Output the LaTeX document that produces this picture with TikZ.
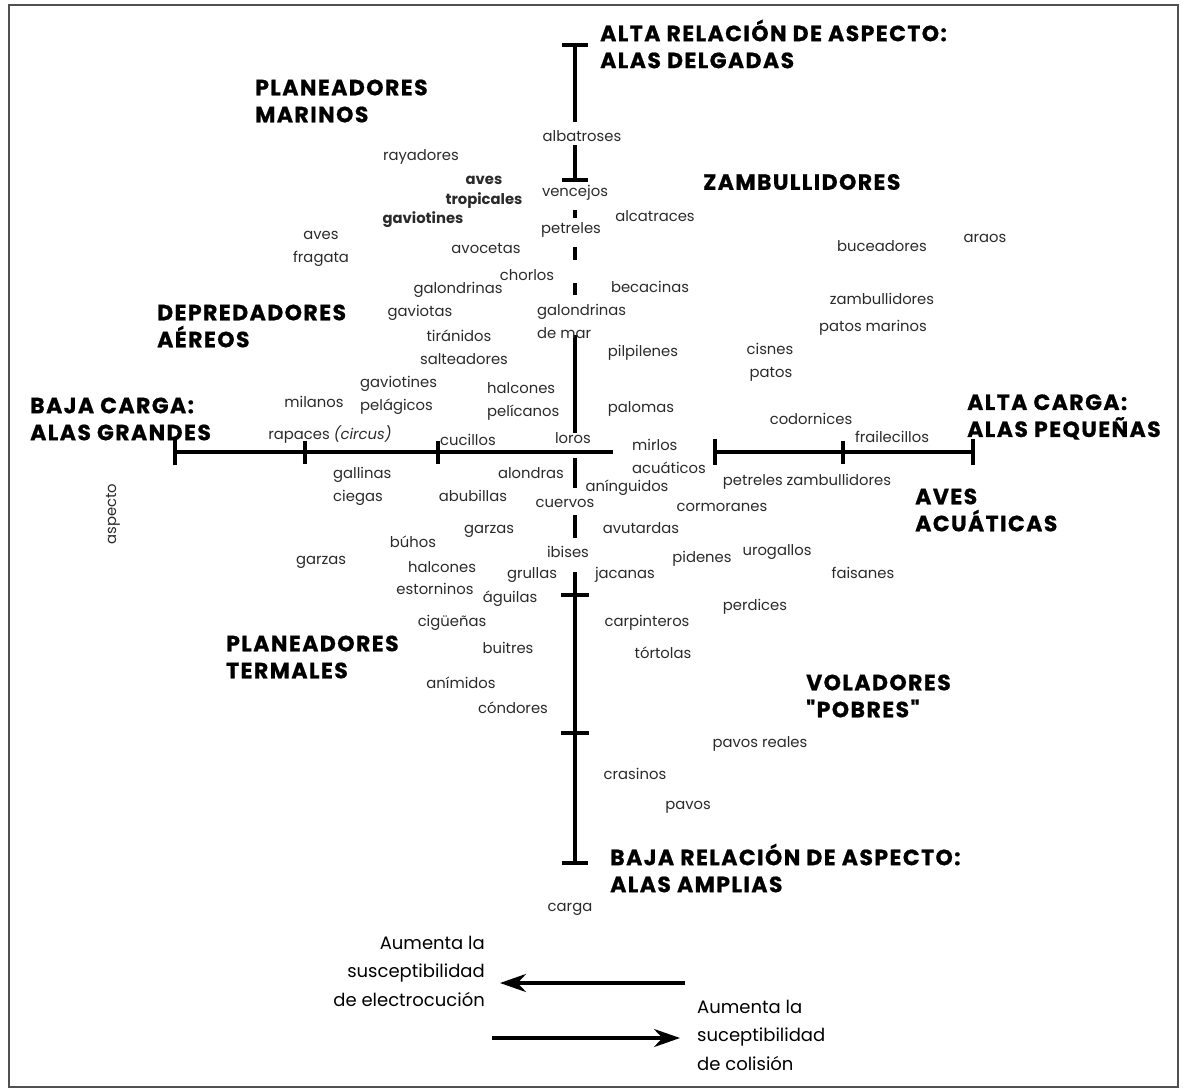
\documentclass[tikz,border=0pt]{standalone}
\usepackage{fontspec}
\setmainfont{Poppins}
\newfontfamily\headfont{Poppins}[LetterSpace=6.5, Ligatures=TeXOff, BoldFeatures={FakeBold=0.8}]
\usepackage{tikz}
\usetikzlibrary{arrows.meta}
\definecolor{framegray}{HTML}{505050}
\definecolor{birdtext}{HTML}{2A2A2A}

\tikzset{
  heading/.style={anchor=west, align=left, inner sep=0pt, font=\headfont\bfseries\fontsize{22}{27}\selectfont},
  bird/.style={inner sep=0pt, text=birdtext, font=\fontsize{14.8}{23}\selectfont},
  legend/.style={inner sep=0pt, font=\fontsize{18}{28.5}\selectfont},
  axis/.style={line width=3.6pt},
  tick/.style={line width=3.6pt}
}

\begin{document}
\begin{tikzpicture}[x=1pt,y=-1pt]
  \useasboundingbox (0,0) rectangle (1183,1090);
  \draw[framegray, line width=1.8pt] (9,5) rectangle (1178,1087);

  \begin{scope}[every node/.style={heading}]
    \node (altarel) at (600,44) {ALTA RELACIÓN DE ASPECTO:\\ALAS DELGADAS};
    \node (marinos) at (255,101) {PLANEADORES\\MARINOS};
    \node (zambu) at (703,182) {ZAMBULLIDORES};
    \node (depred) at (157,326) {DEPREDADORES\\AÉREOS};
    \node (bajacar) at (30,419) {BAJA CARGA:\\ALAS GRANDES};
    \node (altacar) at (967,417) {ALTA CARGA:\\ALAS PEQUEÑAS};
    \node (acuat) at (915,510) {AVES\\ACUÁTICAS};
    \node (termal) at (226,657) {PLANEADORES\\TERMALES};
    \node (pobres) at (806,696) {VOLADORES\\"POBRES"};
    \node (bajarel) at (610,868) {BAJA RELACIÓN DE ASPECTO:\\ALAS AMPLIAS};
  \end{scope}

  \coordinate (vtop) at (575,43);
  \coordinate (vbot) at (575,865);
  \coordinate (hleft) at (173,452);
  \coordinate (hcut) at (613,452);
  \coordinate (hrleft) at (713,452);
  \coordinate (hright) at (975,452);

  \begin{scope}[axis]
    \draw[{Bar[width=26pt]}-] (vtop) -- (575,122);
    \draw[-{Bar[width=26pt]}] (575,145) -- (575,182);
    \foreach \a/\b in {210/218,247/260,283/295,335/433,458/488,515/538}
      \draw (575,\a) -- (575,\b);
    \draw[-{Bar[width=26pt]}] (575,572) -- (vbot);
    \draw[{Bar[width=26pt]}-] (hleft) -- (hcut);
    \draw[{Bar[width=26pt]}-{Bar[width=26pt]}] (hrleft) -- (hright);
    \foreach \t in {305,438,843}
      \draw (\t,441) -- (\t,464);
    \foreach \t in {595,733}
      \draw (561,\t) -- (589,\t);
  \end{scope}

  \begin{scope}[every node/.style={bird}]
    \node (albat) at (582,136) {albatroses};
    \node (rayad) at (421,157) {rayadores};
    \node[align=center, font=\bfseries\fontsize{14.8}{20}\selectfont] (tropic) at (484,192) {aves\\tropicales};
    \node[font=\bfseries\fontsize{14.8}{23}\selectfont] (gavio) at (423,220) {gaviotines};
    \node (vence) at (575,193) {vencejos};
    \node (alcat) at (655,216) {alcatraces};
    \node (petre) at (571,230) {petreles};
    \node[align=center] (fraga) at (321,249) {aves\\fragata};
    \node (avoce) at (486,248) {avocetas};
    \node (chorl) at (527,275) {chorlos};
    \node (golon) at (458,290) {galondrinas};
    \node (becac) at (650,287) {becacinas};
    \node (gavta) at (420,313) {gaviotas};
    \node[anchor=west, align=left] (golmar) at (537,321) {galondrinas\\de mar};
    \node (tiran) at (459,336) {tiránidos};
    \node (pilpi) at (643,353) {pilpilenes};
    \node (salte) at (464,359) {salteadores};
    \node[anchor=west, align=left] (pelag) at (360,395) {gaviotines\\pelágicos};
    \node (milan) at (314,402) {milanos};
    \node[anchor=west, align=left] (pelic) at (487,401) {halcones\\pelícanos};
    \node (palom) at (641,409) {palomas};
    \node (rapac) at (330,435) {rapaces \textit{(circus)}};
    \node (cucil) at (468,440) {cucillos};
    \node (loros) at (573,438) {loros};
    \node[anchor=west, align=left] (mirlo) at (632,456) {mirlos\\acuáticos};
    \node (cisne) at (770,349) {cisnes};
    \node (patos) at (771,374) {patos};
    \node (zambm) at (882,299) {zambullidores};
    \node (patmar) at (873,328) {patos marinos};
    \node (bucea) at (882,246) {buceadores};
    \node (araos) at (985,238) {araos};
    \node (codor) at (811,419) {codornices};
    \node (frail) at (892,437) {frailecillos};
    \node[anchor=west, align=left] (gallin) at (333,486) {gallinas\\ciegas};
    \node (alond) at (531,473) {alondras};
    \node (aning) at (627,488) {anínguidos};
    \node (abubi) at (473,496) {abubillas};
    \node (cuerv) at (565,503) {cuervos};
    \node (cormo) at (722,507) {cormoranes};
    \node (petzam) at (807,482) {petreles zambullidores};
    \node (garza) at (489,531) {garzas};
    \node (avuta) at (641,528) {avutardas};
    \node (buhos) at (413,542) {búhos};
    \node (ibise) at (568,552) {ibises};
    \node (piden) at (702,559) {pidenes};
    \node (uroga) at (777,552) {urogallos};
    \node (halco) at (442,567) {halcones};
    \node (grull) at (532,575) {grullas};
    \node (jacan) at (625,575) {jacanas};
    \node (faisa) at (863,573) {faisanes};
    \node (estor) at (435,589) {estorninos};
    \node (aguil) at (510,599) {águilas};
    \node (perdi) at (755,607) {perdices};
    \node (cigue) at (452,623) {cigüeñas};
    \node (carpi) at (647,623) {carpinteros};
    \node (buitr) at (508,648) {buitres};
    \node (torto) at (663,653) {tórtolas};
    \node (animi) at (461,683) {anímidos};
    \node (condo) at (513,708) {cóndores};
    \node (garzb) at (321,562) {garzas};
    \node (pavre) at (760,744) {pavos reales};
    \node (crasi) at (635,774) {crasinos};
    \node (pavos) at (688,807) {pavos};
    \node (carga) at (570,909) {carga};
    \node[rotate=90] (aspec) at (113,514) {aspecto};
  \end{scope}

  \node[legend, anchor=east, align=right] (electro) at (485,971) {Aumenta la\\susceptibilidad\\de electrocución};
  \node[legend, anchor=west, align=left] (colis) at (697,1035) {Aumenta la\\suceptibilidad\\de colisión};
  \coordinate (elstart) at (685,983);
  \coordinate (elend) at (500,983);
  \coordinate (costart) at (492,1038);
  \coordinate (coend) at (680,1038);
  \draw[line width=3.6pt, -{Stealth[length=26pt,width=18pt]}] (elstart) -- (elend);
  \draw[line width=3.6pt, -{Stealth[length=26pt,width=18pt]}] (costart) -- (coend);
\end{tikzpicture}
\end{document}
